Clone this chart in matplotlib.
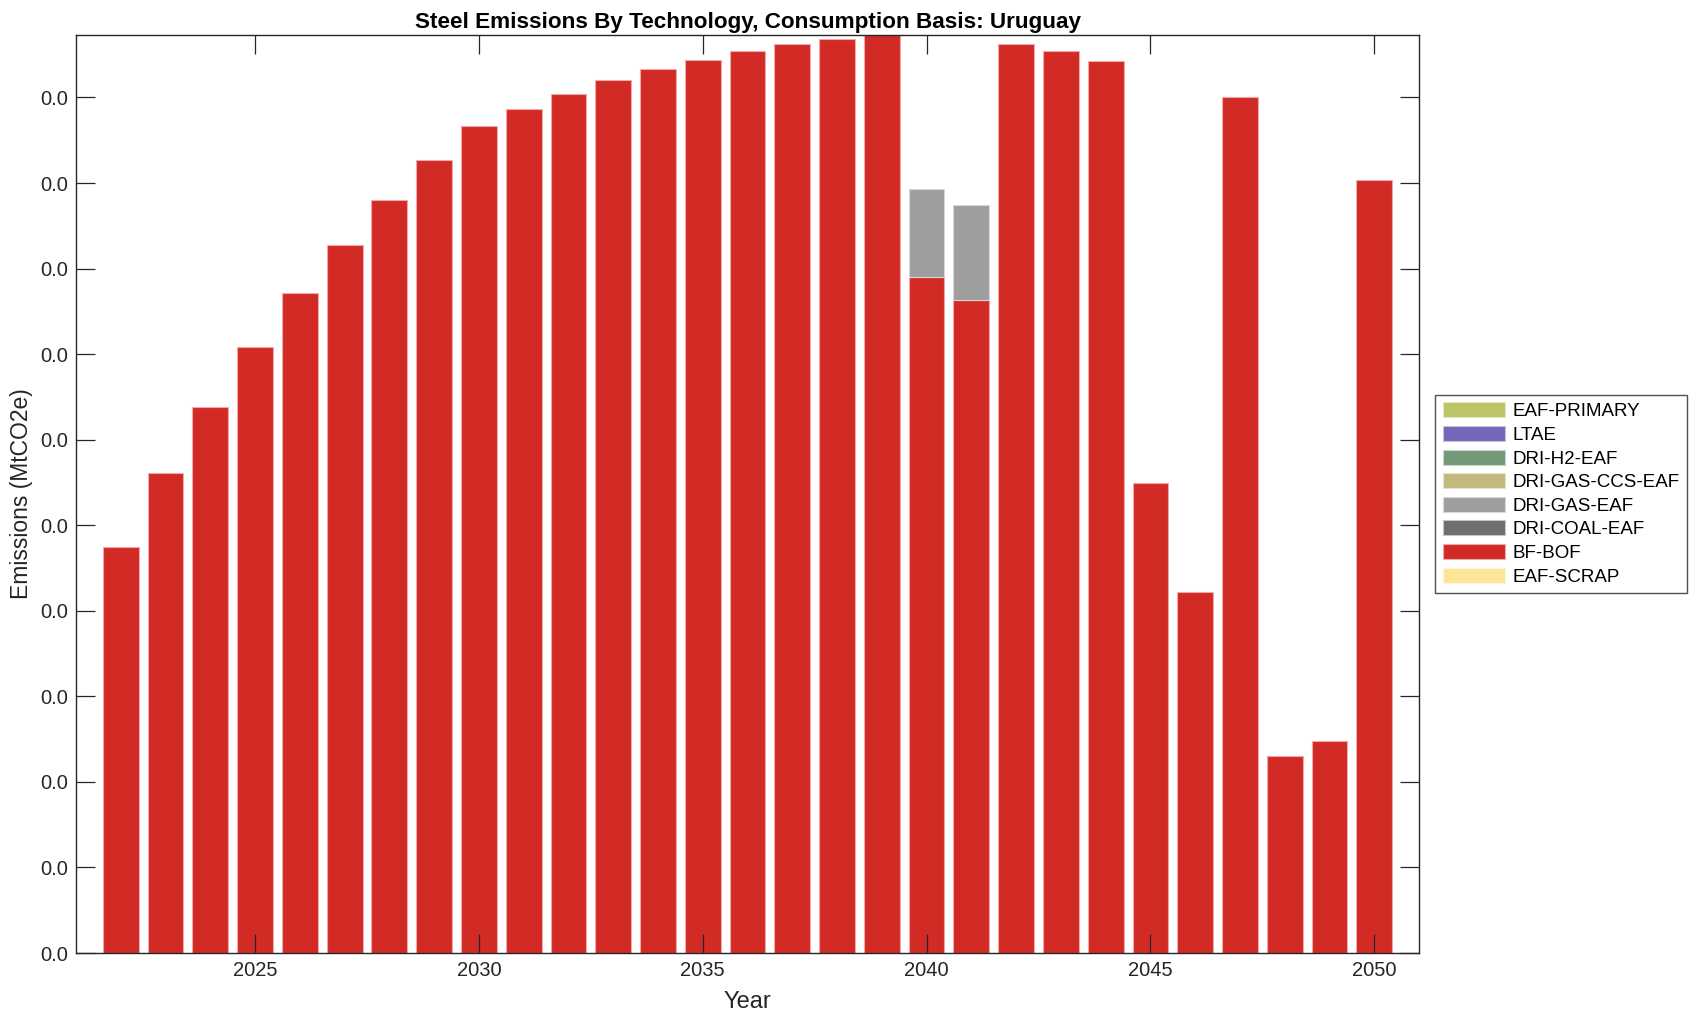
import matplotlib
matplotlib.use("Agg")
import matplotlib.pyplot as plt
from matplotlib.ticker import FormatStrFormatter, MultipleLocator
from matplotlib.patches import Patch
import numpy as np

plt.rcParams['font.family'] = ['Liberation Sans', 'DejaVu Sans']

years = list(range(2022, 2051))
technologies = ["EAF-SCRAP", "BF-BOF", "DRI-COAL-EAF", "DRI-GAS-EAF",
                "DRI-GAS-CCS-EAF", "DRI-H2-EAF", "LTAE", "EAF-PRIMARY"]
colors = {
    "EAF-PRIMARY": "#bcc466",
    "LTAE": "#7466b8",
    "DRI-H2-EAF": "#74987a",
    "DRI-GAS-CCS-EAF": "#c2b97e",
    "DRI-GAS-EAF": "#9e9e9e",
    "DRI-COAL-EAF": "#6e6e6e",
    "BF-BOF": "#d22b26",
    "EAF-SCRAP": "#fde598",
}

bf_bof = [0.00475, 0.00561, 0.00638, 0.00708, 0.00771, 0.00828, 0.00880, 0.00927,
          0.00967, 0.00987, 0.01004, 0.01020, 0.01033, 0.01044, 0.01054, 0.01062,
          0.01068, 0.01073, 0.00790, 0.00763, 0.01063, 0.01054, 0.01043, 0.00549,
          0.00422, 0.01000, 0.00230, 0.00248, 0.00904]
dri_gas_eaf = [0.0] * 18 + [0.00103, 0.00111] + [0.0] * 9
zeros = [0.0] * len(years)
series = {
    "EAF-SCRAP": zeros,
    "BF-BOF": bf_bof,
    "DRI-COAL-EAF": zeros,
    "DRI-GAS-EAF": dri_gas_eaf,
    "DRI-GAS-CCS-EAF": zeros,
    "DRI-H2-EAF": zeros,
    "LTAE": zeros,
    "EAF-PRIMARY": zeros,
}

fig = plt.figure(figsize=(16.96, 10.21), dpi=100)
ax = fig.add_axes([0.0448, 0.0666, 0.7919, 0.8991])


def lighter(c, f=0.4):
    r = np.array(matplotlib.colors.to_rgb(c))
    return tuple(1 - f * (1 - r))


yrs = np.array(years)
bottom = np.zeros(len(years))
for tech in technologies:
    vals = np.array(series[tech])
    nz = vals > 0
    if nz.any():
        ax.bar(yrs[nz], vals[nz], bottom=bottom[nz], width=0.8, color=colors[tech],
               edgecolor=lighter(colors[tech]), linewidth=0.8)
    bottom += vals

ax.set_xlim(2021, 2051)
ax.set_ylim(0, 0.01073)
ax.yaxis.set_major_locator(MultipleLocator(0.001))
ax.yaxis.set_major_formatter(FormatStrFormatter('%.1f'))
ax.set_xticks([2025, 2030, 2035, 2040, 2045, 2050])

dark = "#262626"
for s in ax.spines.values():
    s.set_color(dark)
    s.set_linewidth(1.0)
ax.tick_params(direction='in', length=14, width=0.9, color=dark, labelcolor=dark,
               labelsize=14.5, top=True, right=True, pad=6)

ax.set_title("Steel Emissions By Technology, Consumption Basis: Uruguay",
             fontsize=16.2, fontweight='bold', color='black', pad=5)
ax.set_xlabel("Year", fontsize=17, color=dark, labelpad=8)
ax.set_ylabel("Emissions (MtCO2e)", fontsize=16.5, color=dark, labelpad=5)

order = list(reversed(technologies))
handles = [Patch(facecolor=colors[t], edgecolor=lighter(colors[t]), linewidth=0.8)
           for t in order]
leg = ax.legend(handles, order, loc='center left',
                bbox_to_anchor=(1.012, 0.5), fontsize=13.5, frameon=True,
                fancybox=False, edgecolor=dark, handlelength=3.3,
                handleheight=0.85, labelspacing=0.3, borderpad=0.4,
                handletextpad=0.4, borderaxespad=0)
leg.get_frame().set_linewidth(1.0)

fig.savefig("out.png", dpi=100)
